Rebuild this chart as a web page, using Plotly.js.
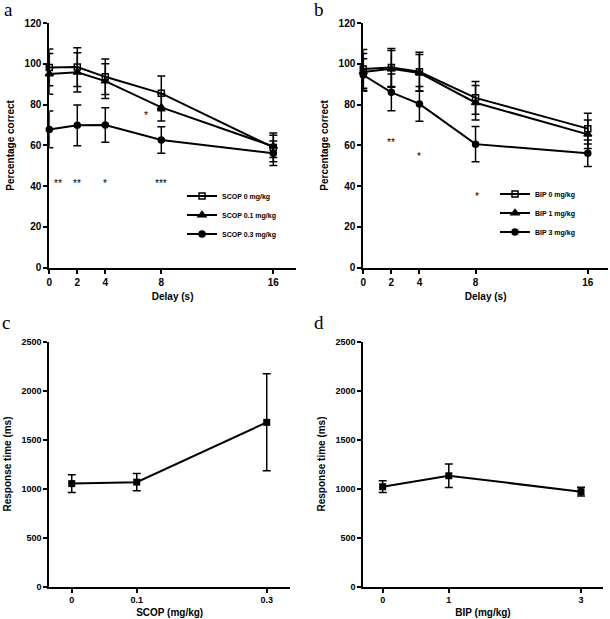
<!DOCTYPE html>
<html>
<head>
<meta charset="utf-8">
<script src="https://cdn.plot.ly/plotly-3.0.1.min.js"></script>
<style>html,body{margin:0;padding:0;background:#fff;}#chart{width:610px;height:619px;}</style>
</head>
<body>
<div id="chart"></div>
<script>
// ---- data ----
const delays = [0, 2, 4, 8, 16];
const delayTicks = [0, 2, 4, 8, 16];

const scop0 = [98.2, 98.4, 93.6, 85.5, 59.0];
const scop0Err = [9.0, 9.5, 8.7, 8.5, 7.0];
const scop01 = [95.0, 95.8, 91.5, 78.6, 59.5];
const scop01Err = [10.0, 9.6, 8.5, 6.7, 5.5];
const scop03 = [67.8, 69.8, 70.0, 62.6, 56.1];
const scop03Err = [9.0, 10.0, 8.5, 6.5, 6.0];

const bip0 = [97.5, 98.2, 96.1, 83.3, 68.2];
const bip0Err = [9.5, 9.3, 9.5, 8.0, 7.5];
const bip1 = [96.0, 97.5, 95.5, 80.9, 65.4];
const bip1Err = [9.0, 9.0, 9.0, 8.5, 7.0];
const bip3 = [94.5, 86.0, 80.3, 60.6, 56.1];
const bip3Err = [8.0, 9.0, 8.5, 8.7, 6.5];

const scopNames = ['SCOP 0 mg/kg', 'SCOP 0.1 mg/kg', 'SCOP 0.3 mg/kg'];
const bipNames = ['BIP 0 mg/kg', 'BIP 1 mg/kg', 'BIP 3 mg/kg'];

const scopDose = [0, 0.1, 0.3];
const scopDoseTicks = ['0', '0.1', '0.3'];
const scopRT = [1050, 1065, 1675];
const scopRTErr = [90, 87, 495];

const bipDose = [0, 1, 3];
const bipDoseTicks = ['0', '1', '3'];
const bipRT = [1018, 1130, 968];
const bipRTErr = [60, 120, 45];

const starsA_x = [0.6, 2, 4, 8, 6.9];
const starsA_y = [42.5, 42.5, 42.5, 42.5, 75.7];
const starsA_t = ['**', '**', '*', '***', '*'];
const starsB_x = [2, 4, 8.1];
const starsB_y = [62.6, 55.6, 36];
const starsB_t = ['**', '*', '*'];

const panelLetters = ['a', 'b', 'c', 'd'];

// ---- styles ----
const W = 610, H = 619;
const SANS = 'Liberation Sans, Arial, sans-serif';
const SERIF = 'Liberation Serif, Times New Roman, serif';
const symbols = ['square-open', 'triangle-up', 'circle'];
const msizes = [6, 7, 6];

function px(x) { return x / W; }
function py(y) { return 1 - y / H; }

function errCfg(arr) {
  return {type: 'data', array: arr, visible: true, color: 'black', thickness: 1.5, width: 4};
}

const traces = [];
[[scop0, scop0Err], [scop01, scop01Err], [scop03, scop03Err]].forEach((d, i) => {
  traces.push({
    x: delays, y: d[0], name: scopNames[i], type: 'scatter', mode: 'lines+markers',
    xaxis: 'x', yaxis: 'y', legend: 'legend', cliponaxis: false,
    line: {color: 'black', width: 2},
    marker: {symbol: symbols[i], size: msizes[i], color: 'black', line: {color: 'black', width: 1.5}},
    error_y: errCfg(d[1])
  });
});
[[bip0, bip0Err], [bip1, bip1Err], [bip3, bip3Err]].forEach((d, i) => {
  traces.push({
    x: delays, y: d[0], name: bipNames[i], type: 'scatter', mode: 'lines+markers',
    xaxis: 'x2', yaxis: 'y2', legend: 'legend2', cliponaxis: false,
    line: {color: 'black', width: 2},
    marker: {symbol: symbols[i], size: msizes[i], color: 'black', line: {color: 'black', width: 1.5}},
    error_y: errCfg(d[1])
  });
});
traces.push({
  x: scopDose, y: scopRT, type: 'scatter', mode: 'lines+markers', showlegend: false,
  xaxis: 'x3', yaxis: 'y3', cliponaxis: false,
  line: {color: 'black', width: 2},
  marker: {symbol: 'square', size: 7, color: 'black'},
  error_y: errCfg(scopRTErr)
});
traces.push({
  x: bipDose, y: bipRT, type: 'scatter', mode: 'lines+markers', showlegend: false,
  xaxis: 'x4', yaxis: 'y4', cliponaxis: false,
  line: {color: 'black', width: 2},
  marker: {symbol: 'square', size: 7, color: 'black'},
  error_y: errCfg(bipRTErr)
});

function axis(extra, fsize) {
  return Object.assign({
    showline: true, linecolor: 'black', linewidth: 2,
    ticks: 'outside', ticklen: 4, tickwidth: 2, tickcolor: 'black',
    showgrid: false, zeroline: false, fixedrange: true,
    tickfont: {family: SANS, size: fsize, color: 'black', weight: 'bold'}
  }, extra);
}
function title(text, fsize, standoff) {
  return {text: text, font: {family: SANS, size: fsize, color: 'black', weight: 'bold'}, standoff: standoff};
}

const annotations = [];
starsA_x.forEach((x, i) => annotations.push({
  xref: 'x', yref: 'y', x: x, y: starsA_y[i], text: starsA_t[i], showarrow: false,
  font: {family: SANS, size: 10, color: '#000000'}, yshift: -2
}));
starsB_x.forEach((x, i) => annotations.push({
  xref: 'x2', yref: 'y2', x: x, y: starsB_y[i], text: starsB_t[i], showarrow: false,
  font: {family: SANS, size: 10, color: '#000000'}, yshift: -2
}));
const letterPos = [[8, 9], [319, 9], [6, 322], [319, 322]];
panelLetters.forEach((t, i) => annotations.push({
  xref: 'paper', yref: 'paper', x: px(letterPos[i][0]), y: py(letterPos[i][1]),
  xanchor: 'center', yanchor: 'middle', text: t, showarrow: false,
  font: {family: SERIF, size: 19, color: 'black'}
}));

const layout = {
  width: W, height: H,
  margin: {l: 0, r: 0, t: 0, b: 0},
  paper_bgcolor: 'white', plot_bgcolor: 'white',
  showlegend: true,
  xaxis: axis({domain: [px(49.3), px(296)], range: [0, 17.62], anchor: 'y',
    tickvals: delayTicks, title: title('Delay (s)', 10, 6)}, 10),
  yaxis: axis({domain: [py(267.7), py(23)], range: [0, 120], anchor: 'x',
    tickvals: [0, 20, 40, 60, 80, 100, 120], title: title('Percentage correct', 10, 8)}, 10),
  xaxis2: axis({domain: [px(363.3), px(608)], range: [0, 17.44], anchor: 'y2',
    tickvals: delayTicks, title: title('Delay (s)', 10, 6)}, 10),
  yaxis2: axis({domain: [py(267.7), py(23)], range: [0, 120], anchor: 'x2',
    tickvals: [0, 20, 40, 60, 80, 100, 120], title: title('Percentage correct', 10, 8)}, 10),
  xaxis3: axis({domain: [px(49.3), px(290)], range: [-0.0345, 0.3358], anchor: 'y3',
    tickvals: scopDose, ticktext: scopDoseTicks, title: title('SCOP (mg/kg)', 10, 5)}, 9),
  yaxis3: axis({domain: [py(586.5), py(341.5)], range: [0, 2500], anchor: 'x3',
    tickvals: [0, 500, 1000, 1500, 2000, 2500], title: title('Response time (ms)', 10, 8)}, 9),
  xaxis4: axis({domain: [px(363.3), px(602.7)], range: [-0.293, 3.328], anchor: 'y4',
    tickvals: bipDose, ticktext: bipDoseTicks, title: title('BIP (mg/kg)', 10, 5)}, 9),
  yaxis4: axis({domain: [py(586.5), py(341.5)], range: [0, 2500], anchor: 'x4',
    tickvals: [0, 500, 1000, 1500, 2000, 2500], title: title('Response time (ms)', 10, 8)}, 9),
  legend: {x: px(182), y: py(215), xanchor: 'left', yanchor: 'middle', bgcolor: 'rgba(0,0,0,0)',
    font: {family: SANS, size: 7, color: 'black', weight: 'bold'}, itemwidth: 30},
  legend2: {x: px(495), y: py(213), xanchor: 'left', yanchor: 'middle', bgcolor: 'rgba(0,0,0,0)',
    font: {family: SANS, size: 7, color: 'black', weight: 'bold'}, itemwidth: 30},
  annotations: annotations
};

Plotly.newPlot('chart', traces, layout, {staticPlot: true, displayModeBar: false});
</script>
</body>
</html>
